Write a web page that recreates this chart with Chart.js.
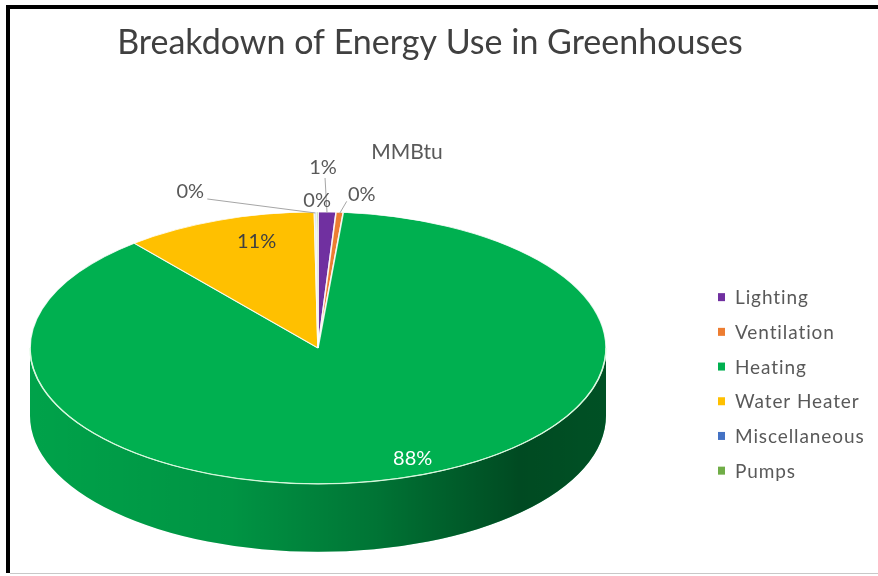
<!DOCTYPE html>
<html>
<head>
<meta charset="utf-8">
<script src="https://cdn.jsdelivr.net/npm/chart.js@4/dist/chart.umd.min.js"></script>
<style>
  html, body { margin: 0; padding: 0; background: #ffffff; overflow: hidden; }
  canvas { display: block; }
</style>
</head>
<body>
<canvas id="chart" width="878" height="576"></canvas>
<script>
// Energy use by end use, as a share of total MMBtu
const categories = ['Lighting', 'Ventilation', 'Heating', 'Water Heater', 'Miscellaneous', 'Pumps'];
const shares = [1.0, 0.4, 87.6, 10.8, 0.1, 0.1];
const seriesName = 'MMBtu';
const chartTitle = 'Breakdown of Energy Use in Greenhouses';

// Styling
const sliceColors = ['#7030a0', '#ed7d31', '#00b050', '#ffc000', '#4472c4', '#70ad47'];
const FONT = 'Lato, "Open Sans", sans-serif';
const TEXT_GREY = '#595959';
const TILT = 0.472;     // vertical squash of the pie top
const DEPTH = 0.236;    // thickness of the pie wall, relative to the horizontal radius
const LEGEND_WIDTH = 224;

// Where each value label sits: inside the slice (fraction of radius) or beside it with a leader line
const labelPlacement = [
  { dx: -4, dy: -44, lead: [2, 10] },
  { dx: 22, dy: -18, lead: [-15, 7] },
  { inside: 0.85, dx: 22, dy: 0, color: '#ffffff' },
  { inside: 0.75, dx: 13, dy: -11, color: '#404040' },
  { dx: -125, dy: -20, lead: [17, 7] },
  { dx: 0, dy: -11 }
];

const total = shares.reduce((a, b) => a + b, 0);
const pctText = v => Math.round(v / total * 100) + '%';

function pieGeometry(chart) {
  const arc = chart.getDatasetMeta(0).data[0];
  const area = chart.chartArea;
  const RX = (area.right - area.left) / 2;
  return { cx: arc.x, cy: arc.y, r: arc.outerRadius, RX, RY: RX * TILT, D: RX * DEPTH };
}

// Legend drawn in its own layout box on the right
const legendBox = {
  position: 'right', weight: 10, fullSize: false, options: {},
  top: 0, left: 0, right: 0, bottom: 0, width: 0, height: 0,
  isHorizontal() { return false; },
  update(maxWidth, maxHeight) { this.width = LEGEND_WIDTH; this.height = maxHeight; },
  getPadding() { return { top: 0, left: 0, right: 0, bottom: 0 }; },
  draw() {
    const ctx = this.chart.ctx;
    const x0 = this.left + 112;
    const step = 34.7;
    const y0 = (this.top + this.bottom) / 2 - 2.5 * step + 36;
    ctx.save();
    ctx.font = '19px ' + FONT;
    ctx.letterSpacing = '0.9px';
    ctx.textBaseline = 'middle';
    ctx.textAlign = 'left';
    categories.forEach((name, i) => {
      const y = y0 + i * step;
      ctx.fillStyle = sliceColors[i];
      ctx.fillRect(x0, y - 4, 7, 8);
      ctx.fillStyle = TEXT_GREY;
      ctx.fillText(name, x0 + 17, y + 1);
    });
    ctx.restore();
  }
};

const pie3d = {
  id: 'pie3d',
  beforeInit(chart) {
    legendBox.chart = chart;
    Chart.layouts.addBox(chart, legendBox);
  },
  beforeDraw(chart) {
    const ctx = chart.ctx;
    ctx.save();
    ctx.fillStyle = '#ffffff';
    ctx.fillRect(0, 0, chart.width, chart.height);
    ctx.fillStyle = '#000000';
    ctx.fillRect(6, 5, chart.width - 6, 4);
    ctx.fillRect(6, 5, 4, chart.height - 8);
    ctx.fillStyle = '#c8c8c8';
    ctx.fillRect(10, chart.height - 3, chart.width - 10, 1);
    ctx.restore();
  },
  beforeDatasetsDraw(chart) {
    const ctx = chart.ctx;
    const { cx, cy, RX, RY, D } = pieGeometry(chart);
    const meta = chart.getDatasetMeta(0);
    const shade = ctx.createLinearGradient(cx - RX, 0, cx + RX, 0);
    shade.addColorStop(0, 'rgba(0,0,0,0.08)');
    shade.addColorStop(0.35, 'rgba(0,0,0,0.16)');
    shade.addColorStop(0.6, 'rgba(0,0,0,0.34)');
    shade.addColorStop(0.85, 'rgba(0,0,0,0.58)');
    shade.addColorStop(1, 'rgba(0,0,0,0.54)');
    ctx.save();
    meta.data.forEach((arc, i) => {
      const s = arc.startAngle, e = arc.endAngle;
      for (const base of [-2 * Math.PI, 0, 2 * Math.PI]) {
        const a1 = Math.max(s, base), a2 = Math.min(e, base + Math.PI);
        if (a2 <= a1) continue;
        ctx.beginPath();
        ctx.ellipse(cx, cy, RX, RY, 0, a1 - base, a2 - base, false);
        ctx.ellipse(cx, cy + D, RX, RY, 0, a2 - base, a1 - base, true);
        ctx.closePath();
        ctx.fillStyle = sliceColors[i];
        ctx.fill();
        ctx.fillStyle = shade;
        ctx.fill();
      }
    });
    ctx.restore();
  },
  beforeDatasetDraw(chart) {
    const ctx = chart.ctx;
    const { cx, cy, r, RX, RY } = pieGeometry(chart);
    ctx.save();
    ctx.translate(cx, cy);
    ctx.scale(RX / r, RY / r);
    ctx.translate(-cx, -cy);
  },
  afterDatasetDraw(chart) {
    const ctx = chart.ctx;
    ctx.restore();
    const { cx, cy, RX, RY } = pieGeometry(chart);
    ctx.save();
    ctx.strokeStyle = 'rgba(215,250,220,0.9)';
    ctx.lineWidth = 1.2;
    ctx.beginPath();
    ctx.ellipse(cx, cy, RX, RY, 0, 0, Math.PI, false);
    ctx.stroke();
    ctx.restore();
  },
  afterDatasetsDraw(chart) {
    const ctx = chart.ctx;
    const { cx, cy, RX, RY } = pieGeometry(chart);
    const meta = chart.getDatasetMeta(0);
    ctx.save();
    ctx.font = '20px ' + FONT;
    ctx.textAlign = 'center';
    ctx.textBaseline = 'middle';
    meta.data.forEach((arc, i) => {
      const p = labelPlacement[i];
      const m = (arc.startAngle + arc.endAngle) / 2;
      const f = p.inside || 1;
      const ax = cx + f * RX * Math.cos(m);
      const ay = cy + f * RY * Math.sin(m);
      const lx = ax + p.dx, ly = ay + p.dy;
      if (p.lead) {
        ctx.strokeStyle = '#a6a6a6';
        ctx.lineWidth = 1;
        ctx.beginPath();
        ctx.moveTo(lx + p.lead[0], ly + p.lead[1]);
        ctx.lineTo(ax, ay + 1);
        ctx.stroke();
      }
      ctx.fillStyle = p.color || TEXT_GREY;
      ctx.fillText(pctText(shares[i]), lx, ly);
    });
    // series name above the pie
    ctx.font = '21px ' + FONT;
    ctx.fillStyle = TEXT_GREY;
    ctx.fillText(seriesName, cx + 89, cy - RY - 60);
    ctx.restore();
  }
};

new Chart(document.getElementById('chart'), {
  type: 'pie',
  data: {
    labels: categories,
    datasets: [{
      label: seriesName,
      data: shares,
      backgroundColor: sliceColors,
      borderColor: 'rgba(255,255,255,0.85)',
      borderWidth: 1
    }]
  },
  options: {
    responsive: false,
    animation: false,
    events: [],
    layout: { padding: { left: 30, right: 48, top: 0, bottom: 42 } },
    plugins: {
      legend: { display: false },
      tooltip: { enabled: false },
      title: {
        display: true,
        text: chartTitle,
        color: '#404040',
        font: { family: FONT, size: 34, weight: 'normal', lineHeight: 1.2 },
        padding: { top: 23, bottom: 98 }
      }
    }
  },
  plugins: [pie3d]
});
</script>
</body>
</html>
